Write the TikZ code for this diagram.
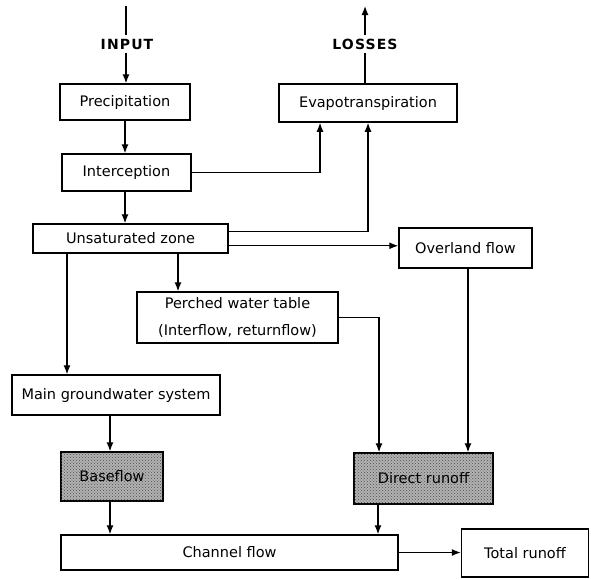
\documentclass[tikz,border=0pt]{standalone}
\usepackage{fontspec}
\setmainfont{DejaVu Sans}
\usepackage{tikz}
\usetikzlibrary{arrows.meta,positioning,calc,patterns}

\begin{document}
\begin{tikzpicture}[x=1pt, y=-1pt,
        box/.style={rectangle, draw=black, line width=1.5pt, inner sep=0pt, align=center, fill=white,
            font=\fontsize{14.5}{27}\selectfont},
        shaded/.style={box, fill=gray!60, postaction={pattern=crosshatch dots, pattern color=black!70}},
        label/.style={font=\fontsize{14}{16}\selectfont\bfseries\addfontfeature{LetterSpace=8}},
        arrow/.style={->, line width=1.2pt, >={Latex[length=9pt,width=7pt]}},
        line/.style={line width=1.2pt}]

        \useasboundingbox (0,0) rectangle (591,579);

        % boxes
        \node[box, minimum width=130pt, minimum height=36pt] (prec) at (125,102) {Precipitation};
        \node[box, minimum width=129pt, minimum height=37pt] (inter) at (126.5,172.5) {Interception};
        \node[box, minimum width=178pt, minimum height=38pt] (evapo) at (368,103) {Evapotranspiration};
        \node[box, minimum width=195pt, minimum height=29pt] (unsat) at (130.5,238.5) {Unsaturated zone};
        \node[box, minimum width=133pt, minimum height=40pt] (overland) at (465.5,248) {Overland flow};
        \node[box, minimum width=201pt, minimum height=51pt] (perched) at (237.5,317.5) {Perched water table\\(Interflow, returnflow)};
        \node[box, minimum width=208pt, minimum height=40pt] (maingw) at (116,395) {Main groundwater system};
        \node[shaded, minimum width=102pt, minimum height=49pt] (base) at (112,476.5) {Baseflow};
        \node[shaded, minimum width=139pt, minimum height=51pt] (direct) at (423.5,478.5) {Direct runoff};
        \node[box, minimum width=337pt, minimum height=35pt] (channel) at (229.5,552.5) {Channel flow};
        \node[box, minimum width=127pt, minimum height=48pt] (total) at (525,553) {Total runoff};

        % labels
        \node[label] (input) at (127,44) {INPUT};
        \node[label] (losses) at (365,44) {LOSSES};
        \coordinate (inTop) at (126,6);
        \coordinate (lossTop) at (365,6);

        % connectors
        \draw[line] (inTop) -- (input.north -| inTop);
        \draw[arrow] (input.south -| inTop) -- (prec.north -| inTop);
        \draw[line] (evapo.north -| lossTop) -- (losses.south -| lossTop);
        \draw[arrow] (losses.north -| lossTop) -- (lossTop);
        \draw[arrow] (prec.south) -- (inter.north -| prec.south);
        \draw[arrow] (inter.east) -| ([xshift=-48pt]evapo.south);
        \draw[arrow] (inter.south -| prec.south) -- (unsat.north -| prec.south);
        \draw[arrow] ([yshift=-8pt]unsat.north east) -| (evapo.south);
        \draw[arrow] ([yshift=8pt]unsat.south east) -- ([yshift=8pt]unsat.south east -| overland.west);
        \draw[arrow] ([xshift=47.5pt]unsat.south) -- ([xshift=47.5pt]unsat.south |- perched.north);
        \draw[arrow] ([xshift=-63.5pt]unsat.south) -- ([xshift=-63.5pt]unsat.south |- maingw.north);
        \draw[arrow] (perched.east) -| ([xshift=-44.5pt]direct.north);
        \draw[arrow] ([xshift=2.5pt]overland.south) -- ([xshift=2.5pt]overland.south |- direct.north);
        \draw[arrow] ([xshift=-2pt]base.north |- maingw.south) -- ([xshift=-2pt]base.north);
        \draw[arrow] ([xshift=-2pt]base.south) -- ([xshift=-2pt]base.south |- channel.north);
        \draw[arrow] ([xshift=-45.5pt]direct.south) -- ([xshift=-45.5pt]direct.south |- channel.north);
        \draw[arrow] (channel.east) -- (channel.east -| total.west);

    \end{tikzpicture}
\end{document}
